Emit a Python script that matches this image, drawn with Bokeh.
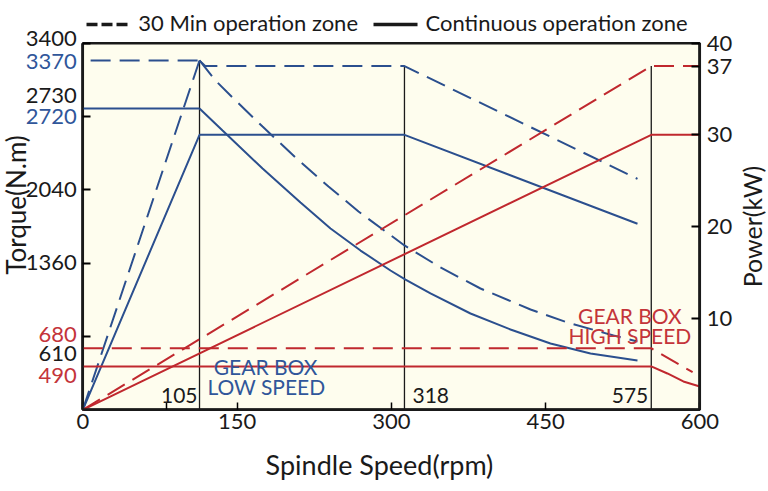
import math
from bokeh.plotting import figure
from bokeh.models import (Range1d, LinearAxis, FixedTicker, ColumnDataSource,
                          LabelSet, Label)
from bokeh.embed import file_html
from bokeh.resources import INLINE
from bokeh.core.properties import value

# ---------------- data (as drawn on the chart) ----------------
speed_ticks = [0, 150, 300, 450, 600]
speed_minor = [81]
torque_ticks = [680, 1360, 2040, 2720, 3400]
power_ticks = [10, 20, 30, 37.5, 40]

# corner-speed marker lines (plotted position, printed label)
corner_x = [113.5, 312.8, 552.8]
corner_labels = ["105", "318", "575"]

# torque-axis labels: text, position on torque axis, colour group
torque_label_text = ["3400", "3370", "2730", "2720", "2040", "1360", "680", "610", "490"]
torque_label_pos = [3439, 3232, 2915, 2722, 2042, 1369, 694, 519, 321]
torque_label_grp = ["k", "b", "k", "b", "k", "k", "r", "k", "r"]

# LOW gear (blue) -- torque in N.m
low30_ramp_x = [0, 113.5]
low30_ramp_t = [0, 3240]
low30_flat_x = [7.6, 113.5]
low30_flat_t = [3240, 3240]
low30_curve_x = [113.5, 129.0, 145.6, 174.8, 206.8, 238.9, 268.1, 312.8, 347.8, 386.7,
                 435.4, 471.3, 516.1, 539.4]
low30_curve_t = [3240, 3054, 2896, 2627, 2340, 2071, 1839, 1524, 1320, 1125,
                 930, 810, 689, 633]
lowS1_flat_x = [0, 113.5]
lowS1_flat_t = [2794, 2794]
lowS1_curve_x = [113.5, 135.9, 174.8, 211.7, 240.9, 270.1, 299.2, 313.8, 338.1, 377.0,
                 415.9, 454.8, 493.7, 539.4]
lowS1_curve_t = [2794, 2590, 2238, 1923, 1681, 1477, 1292, 1208, 1079, 893,
                 745, 615, 522, 457]
# LOW gear (blue) -- power in kW
low30_power_x = [113.5, 119.3, 312.8, 539.4]
low30_power_p = [38.1, 37.5, 37.5, 25.2]
lowS1_power_x = [0, 113.5, 312.8, 539.4]
lowS1_power_p = [0, 30, 30, 20.3]

# HIGH gear (red) -- torque in N.m
high30_torque_x = [0, 552.8, 561, 593]
high30_torque_t = [571, 571, 525, 349]
highS1_torque_x = [0, 552.8, 568.5, 584, 600]
highS1_torque_t = [402, 402, 337, 263, 216]
# HIGH gear (red) -- power in kW
high30_power_x = [0, 552.8, 600]
high30_power_p = [0, 37.5, 37.5]
highS1_power_x = [0, 552.8, 600]
highS1_power_p = [0, 30, 30]

# ---------------- styling ----------------
BLUE = "#2b4f8e"
BLUE_T = "#30569a"
RED = "#c0282e"
RED_T = "#c4343a"
INK = "#1a1a1a"
CREAM = "#fefdee"
FONT = "Lato"
DASH = "20 9"
grp_color = {"k": INK, "b": BLUE_T, "r": RED_T}

W, H = 766, 488
# The plotting frame fills the whole canvas; the chart area (0-600 rpm,
# 0-3400 N.m) sits inside it, so titles and key around it are not clipped.
p = figure(width=W, height=H,
           x_range=Range1d(-80.03, 664.86), y_range=Range1d(-729.9, 3796.0),
           x_axis_location=None, y_axis_location=None,
           output_backend="svg", toolbar_location=None,
           min_border=0, min_border_left=0, min_border_right=0,
           min_border_top=0, min_border_bottom=0,
           background_fill_color="white", border_fill_color="white",
           outline_line_color=None)
p.xgrid.visible = False
p.ygrid.visible = False
p.extra_y_ranges = {"power": Range1d(-8.587, 44.66)}

# chart area
p.quad(left=[speed_ticks[0]], right=[speed_ticks[-1]], bottom=[0], top=[torque_ticks[-1]],
       fill_color=CREAM, line_color=INK, line_width=2.5)

# bottom axis
xa = LinearAxis(fixed_location=0, bounds=(0, 600),
                ticker=FixedTicker(ticks=speed_ticks, minor_ticks=speed_minor))
xa.major_tick_in = 7
xa.major_tick_out = 0
xa.minor_tick_in = 7
xa.minor_tick_out = 0
xa.major_tick_line_width = 1.5
xa.minor_tick_line_width = 1.5
xa.axis_line_width = 2.5
xa.axis_line_color = INK
xa.major_label_text_font = FONT
xa.major_label_text_font_size = "22px"
xa.major_label_text_color = INK
xa.major_label_standoff = 4
p.add_layout(xa, "below")

# left axis (labels drawn separately, coloured)
ya = LinearAxis(fixed_location=0, bounds=(0, 3400), ticker=FixedTicker(ticks=torque_ticks))
ya.major_tick_in = 8
ya.major_tick_out = 0
ya.minor_tick_line_color = None
ya.major_tick_line_width = 2
ya.axis_line_width = 2.5
ya.axis_line_color = INK
ya.major_label_overrides = {t: "" for t in torque_ticks}
p.add_layout(ya, "left")

# right axis (power)
ra = LinearAxis(y_range_name="power", fixed_location=600, bounds=(0, 40),
                ticker=FixedTicker(ticks=power_ticks),
                major_label_overrides={37.5: "37"})
ra.major_tick_in = 8
ra.major_tick_out = 0
ra.minor_tick_line_color = None
ra.major_tick_line_width = 2
ra.axis_line_width = 2.5
ra.axis_line_color = INK
ra.major_label_text_font = FONT
ra.major_label_text_font_size = "22px"
ra.major_label_text_color = INK
ra.major_label_standoff = 7
p.add_layout(ra, "right")

# corner-speed vertical lines
p.line([corner_x[0], corner_x[0]], [0, low30_ramp_t[1]], line_color=INK, line_width=1.3)
for cx in corner_x[1:]:
    p.line([cx, cx], [0, high30_power_p[1]], y_range_name="power", line_color=INK, line_width=1.3)

# low gear curves (blue)
p.line(low30_ramp_x, low30_ramp_t, line_color=BLUE, line_width=2, line_dash=DASH)
p.line(low30_flat_x, low30_flat_t, line_color=BLUE, line_width=2, line_dash=DASH)
p.line(low30_curve_x, low30_curve_t, line_color=BLUE, line_width=2, line_dash=DASH)
p.line(low30_power_x, low30_power_p, y_range_name="power", line_color=BLUE, line_width=2, line_dash=DASH)
p.line(lowS1_flat_x, lowS1_flat_t, line_color=BLUE, line_width=2)
p.line(lowS1_curve_x, lowS1_curve_t, line_color=BLUE, line_width=2)
p.line(lowS1_power_x, lowS1_power_p, y_range_name="power", line_color=BLUE, line_width=2)

# high gear curves (red)
p.line(high30_torque_x, high30_torque_t, line_color=RED, line_width=2, line_dash=DASH)
p.line(highS1_torque_x, highS1_torque_t, line_color=RED, line_width=2)
p.line(high30_power_x, high30_power_p, y_range_name="power", line_color=RED, line_width=2, line_dash=DASH)
p.line(highS1_power_x, highS1_power_p, y_range_name="power", line_color=RED, line_width=2)

# torque axis labels
tsrc = ColumnDataSource(dict(x=[0] * len(torque_label_text), y=torque_label_pos,
                             text=torque_label_text,
                             color=[grp_color[g] for g in torque_label_grp]))
p.add_layout(LabelSet(source=tsrc, x="x", y="y", text="text", text_color="color",
                      x_offset=-6, text_align="right", text_baseline="middle",
                      text_font=value(FONT), text_font_size=value("22px")))

# corner speed labels
csrc = ColumnDataSource(dict(x=corner_x, y=[0] * 3, text=corner_labels,
                             align=["right", "left", "right"], xo=[-2, 8, -3]))
p.add_layout(LabelSet(source=csrc, x="x", y="y", text="text", x_offset="xo", y_offset=14,
                      text_align="align", text_baseline="middle", text_color=INK,
                      text_font=value(FONT), text_font_size=value("21px")))

# gearbox annotations
for txt, x, y, col in [("GEAR BOX", 177.7, 403, BLUE_T), ("LOW SPEED", 178.6, 217, BLUE_T),
                       ("GEAR BOX", 532, 873, RED_T), ("HIGH SPEED", 532, 690, RED_T)]:
    p.add_layout(Label(x=x, y=y, text=txt, text_align="center", text_baseline="middle",
                       text_color=col, text_font=FONT, text_font_size="21px"))

# axis titles
p.add_layout(Label(x=-64.5, y=1900, text="Torque(N.m)", angle=math.pi / 2,
                   text_align="center", text_baseline="middle", text_color=INK,
                   text_font=FONT, text_font_size="26px"))
p.add_layout(Label(x=651.2, y=1700, text="Power(kW)", angle=math.pi / 2,
                   text_align="center", text_baseline="middle", text_color=INK,
                   text_font=FONT, text_font_size="25px"))
p.add_layout(Label(x=288.5, y=-505, text="Spindle Speed(rpm)",
                   text_align="center", text_baseline="middle", text_color=INK,
                   text_font=FONT, text_font_size="27px"))

# key above the chart
p.line([3.6, 44.5], [3573, 3573], line_color=INK, line_width=3.5, line_dash="11 4")
p.add_layout(Label(x=54, y=3592, text="30 Min operation zone", text_align="left",
                   text_baseline="middle", text_color=INK, text_font=FONT, text_font_size="22px"))
p.line([282.7, 325.5], [3573, 3573], line_color=INK, line_width=3.5)
p.add_layout(Label(x=333.3, y=3592, text="Continuous operation zone", text_align="left",
                   text_baseline="middle", text_color=INK, text_font=FONT, text_font_size="22px"))

open("out.html", "w").write(file_html(p, INLINE))
